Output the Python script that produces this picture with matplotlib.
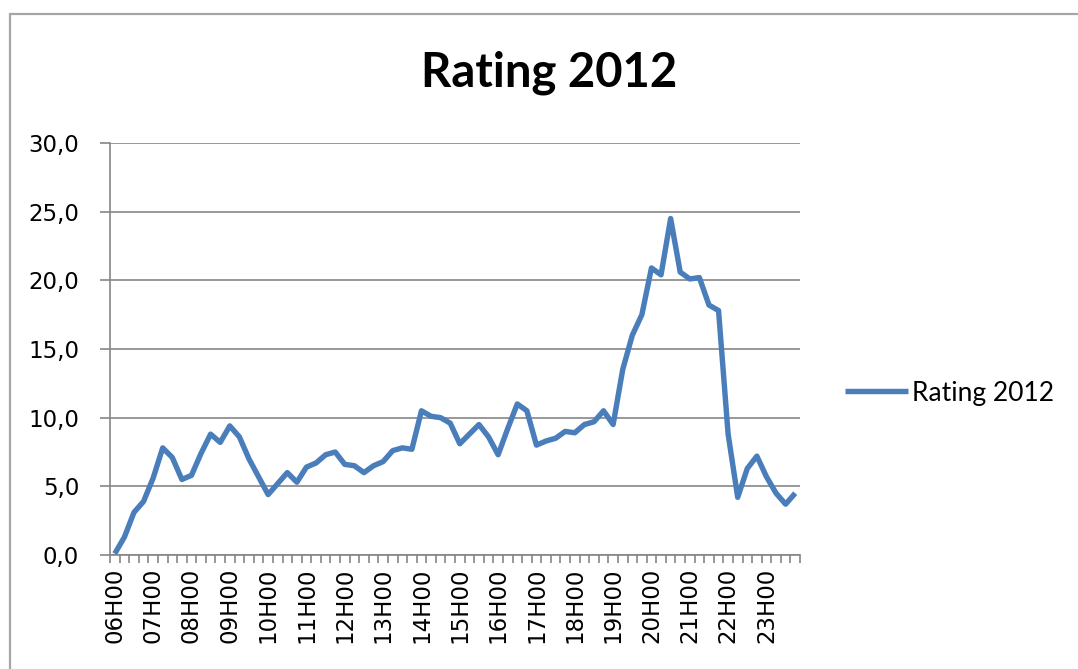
import matplotlib
matplotlib.use("Agg")
import matplotlib.pyplot as plt
from matplotlib.patches import Rectangle
import numpy as np

# quarter-hour ratings, 06H00 .. 23H45
hours = ["06H00", "07H00", "08H00", "09H00", "10H00", "11H00", "12H00", "13H00", "14H00",
         "15H00", "16H00", "17H00", "18H00", "19H00", "20H00", "21H00", "22H00", "23H00"]
rating = [0.1, 1.3, 3.1, 3.9, 5.6, 7.8, 7.1, 5.5, 5.8, 7.4, 8.8, 8.2,
          9.4, 8.6, 7.0, 5.7, 4.4, 5.2, 6.0, 5.3, 6.4, 6.7, 7.3, 7.5,
          6.6, 6.5, 6.0, 6.5, 6.8, 7.6, 7.8, 7.7, 10.5, 10.1, 10.0, 9.6,
          8.1, 8.8, 9.5, 8.6, 7.3, 9.2, 11.0, 10.5, 8.0, 8.3, 8.5, 9.0,
          8.9, 9.5, 9.7, 10.5, 9.5, 13.5, 16.0, 17.5, 20.9, 20.4, 24.5, 20.6,
          20.1, 20.2, 18.2, 17.8, 8.8, 4.2, 6.3, 7.2, 5.7, 4.5, 3.7, 4.5]
y_ticks = [0, 5, 10, 15, 20, 25, 30]
y_labels = ["0,0", "5,0", "10,0", "15,0", "20,0", "25,0", "30,0"]
series_name = "Rating 2012"

W, H = 1078, 669
fig = plt.figure(figsize=(W / 100, H / 100), dpi=100)
fig.patch.set_facecolor("white")

# chart area border (cut off at right/bottom like the screenshot)
fig.patches.append(Rectangle((10 / W, -0.1), 1.2, 1 - 14 / H + 0.1, transform=fig.transFigure,
                             fill=False, edgecolor="#a6a6a6", linewidth=1.6))

ax = fig.add_axes([110 / W, (H - 555) / H, 690 / W, 412 / H])
x = np.arange(len(rating))
line, = ax.plot(x, rating, color="#4a7ebb", linewidth=3.9, solid_joinstyle="round",
                solid_capstyle="butt", label=series_name)

ax.set_xlim(-0.5, len(rating) - 0.5)
ax.set_ylim(0, 30)

grey = "#868686"
ax.set_yticks(y_ticks)
ax.set_yticklabels(y_labels, fontsize=16.5, family="DejaVu Sans")
ax.yaxis.grid(True, color=grey, linewidth=1.2)
ax.set_axisbelow(True)
ax.tick_params(axis="y", length=7.2, width=1.2, color=grey, direction="out", pad=15)

ax.set_xticks(x[::4])
ax.set_xticklabels(hours, rotation=90, fontsize=16.5, family="DejaVu Sans", va="top")
ax.set_xticks(np.arange(-0.5, len(rating), 1.0), minor=True)
ax.tick_params(axis="x", which="major", length=0, pad=9)
ax.tick_params(axis="x", which="minor", length=6, width=1.2, color=grey, direction="out")

for side in ("top", "right"):
    ax.spines[side].set_visible(False)
for side in ("left", "bottom"):
    ax.spines[side].set_color(grey)
    ax.spines[side].set_linewidth(1.2)

fig.text(549 / W, 1 - 73 / H, "Rating 2012", ha="center", va="center",
         fontsize=34, fontweight="bold", family="Lato")

fig.legend(handles=[line], loc="center left", bbox_to_anchor=(845 / W, 1 - 393 / H),
           frameon=False, borderpad=0, borderaxespad=0, handlelength=2.4,
           handletextpad=0.15, prop={"family": "Lato", "size": 19})

fig.savefig("out.png", dpi=100, facecolor="white")
